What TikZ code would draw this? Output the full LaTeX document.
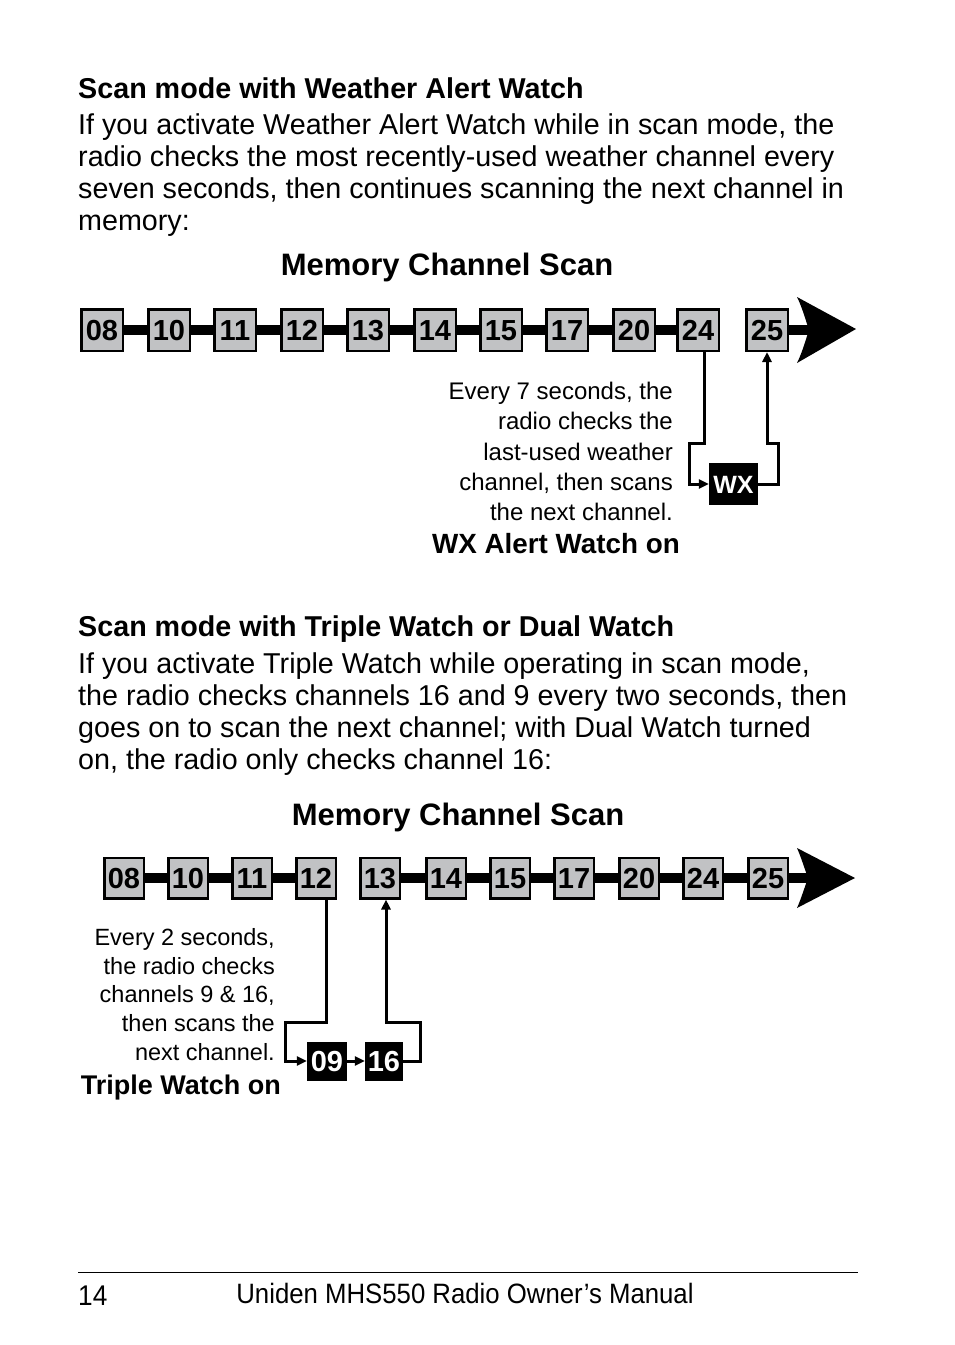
\documentclass[tikz,border=0pt]{standalone}
\usepackage{fontspec}
\setmainfont{Liberation Sans}
\newfontfamily\narrowfont[FakeStretch=0.92]{Liberation Sans}
\usetikzlibrary{arrows.meta}
\definecolor{boxgray}{RGB}{193,194,196}
\begin{document}
\begin{tikzpicture}[x=1pt,y=-1pt,
  chan/.style={draw=black,line width=2.5pt,fill=boxgray,minimum width=41.5pt,minimum height=41.5pt,inner sep=0pt,text height=20.8pt,text depth=0pt,font=\fontsize{29}{29}\selectfont\bfseries},
  chanb/.style={chan,minimum width=39.5pt,minimum height=40.5pt},
  blk/.style={fill=black,text=white,minimum width=40pt,minimum height=39pt,inner sep=0pt,text height=20.8pt,text depth=0pt,font=\fontsize{29}{29}\selectfont\bfseries},
  bar/.style={line width=10pt},
  conn/.style={line width=3pt},
  tip/.style={-{Triangle[length=10pt,width=9pt]}},
  body/.style={anchor=base west,inner sep=0pt,font=\fontsize{28.7}{31}\selectfont},
  head/.style={anchor=base west,inner sep=0pt,font=\fontsize{28.7}{31}\selectfont\bfseries},
  title/.style={anchor=base,inner sep=0pt,font=\fontsize{31}{31}\selectfont\bfseries},
  note/.style={anchor=base east,inner sep=0pt,font=\fontsize{24}{30}\selectfont},
  noteb/.style={anchor=base east,inner sep=0pt,font=\fontsize{27.8}{30}\selectfont\bfseries},
  big/.style={fill=black}
]
\useasboundingbox (0,0) rectangle (954,1345);

% ---------- Section 1 text
\node[head] (h1) at (78,98) {Scan mode with Weather Alert Watch};
\node[body] (p1a) at (78,134) {If you activate Weather Alert Watch while in scan mode, the};
\node[body] (p1b) at (78,166) {radio checks the most recently-used weather channel every};
\node[body] (p1c) at (78,198) {seven seconds, then continues scanning the next channel in};
\node[body] (p1d) at (78,230) {memory:};

\node[title] (t1) at (447,275) {Memory Channel Scan};

% ---------- Diagram 1
\foreach \n/\x in {08/102,10/169,11/235,12/302,13/368,14/435,15/501,17/567,20/634,24/698,25/767}{
  \node[chan] (a\n) at (\x,330) {\n};
}
\foreach \p/\q in {08/10,10/11,11/12,12/13,13/14,14/15,15/17,17/20,20/24}{
  \draw[bar] (a\p.east) -- (a\q.west);
}
\coordinate (arA) at (809,330);
\draw[bar] (a25.east) -- (arA);
\fill[big] (arA) .. controls (805,318) and (802,307) .. (797,297) -- (856,329) -- (797,363) .. controls (802,353) and (805,342) .. (arA) -- cycle;

\node[blk,minimum width=49pt,minimum height=42pt,text height=18pt,font=\fontsize{25}{25}\selectfont\bfseries] (wx) at (733.5,484) {WX};
\coordinate (k1) at (689,443);
\coordinate (k2) at (778,443);
\draw[conn,tip] ([xshift=6pt]a24.south) |- (k1) |- (wx.west);
\draw[conn,tip] (wx.east) -| (k2) -| (a25.south);

\node[note] (n1a) at (673,399) {Every 7 seconds, the};
\node[note] (n1b) at (673,429) {radio checks the};
\node[note] (n1c) at (673,460) {last-used weather};
\node[note] (n1d) at (673,490) {channel, then scans};
\node[note] (n1e) at (673,520) {the next channel.};
\node[noteb] (n1f) at (680,553) {WX Alert Watch on};

% ---------- Section 2 text
\node[head] (h2) at (78,636) {Scan mode with Triple Watch or Dual Watch};
\node[body] (p2a) at (78,673) {If you activate Triple Watch while operating in scan mode,};
\node[body] (p2b) at (78,705) {the radio checks channels 16 and 9 every two seconds, then};
\node[body] (p2c) at (78,737) {goes on to scan the next channel; with Dual Watch turned};
\node[body] (p2d) at (78,769) {on, the radio only checks channel 16:};

\node[title] (t2) at (458,825) {Memory Channel Scan};

% ---------- Diagram 2
\foreach \n/\x in {08/124,10/188,11/252,12/316,13/380,14/446,15/510,17/574,20/639,24/703,25/768}{
  \node[chanb] (b\n) at (\x,878) {\n};
}
\foreach \p/\q in {08/10,10/11,11/12,13/14,14/15,15/17,17/20,20/24,24/25}{
  \draw[bar] (b\p.east) -- (b\q.west);
}
\coordinate (arB) at (808,878);
\draw[bar] (b25.east) -- (arB);
\fill[big] (arB) .. controls (804,867) and (801,857) .. (797,848) -- (855,878) -- (797,908) .. controls (801,899) and (804,889) .. (arB) -- cycle;

\node[blk] (c09) at (327,1061) {09};
\node[blk,minimum width=38pt] (c16) at (384,1061) {16};
\coordinate (m1) at (285,1022);
\coordinate (m2) at (420,1022);
\draw[conn,tip] ([xshift=10pt]b12.south) |- (m1) |- (c09.west);
\draw[conn,tip] (c09.east) -- (c16.west);
\draw[conn,tip] (c16.east) -| (m2) -| ([xshift=6pt]b13.south);

\node[note,font=\fontsize{23.5}{30}\selectfont] (n2a) at (275,945) {Every 2 seconds,};
\node[note,font=\fontsize{23.5}{30}\selectfont] (n2b) at (275,974) {the radio checks};
\node[note,font=\fontsize{23.5}{30}\selectfont] (n2c) at (275,1002) {channels 9 \& 16,};
\node[note,font=\fontsize{23.5}{30}\selectfont] (n2d) at (275,1031) {then scans the};
\node[note,font=\fontsize{23.5}{30}\selectfont] (n2e) at (275,1060) {next channel.};
\node[noteb,font=\fontsize{27}{30}\selectfont\bfseries] (n2f) at (281,1094) {Triple Watch on};

% ---------- Footer
\coordinate (f1) at (78,1272);
\coordinate (f2) at (858,1272);
\draw[line width=1pt] (f1) -- (f2);
\node[anchor=base west,inner sep=0pt,font=\narrowfont\fontsize{28.5}{28}\selectfont] (pg) at (78,1305) {14};
\node[anchor=base,inner sep=0pt,font=\narrowfont\fontsize{28}{28}\selectfont] (ft) at (465,1303) {Uniden MHS550 Radio Owner’s Manual};
\end{tikzpicture}
\end{document}
